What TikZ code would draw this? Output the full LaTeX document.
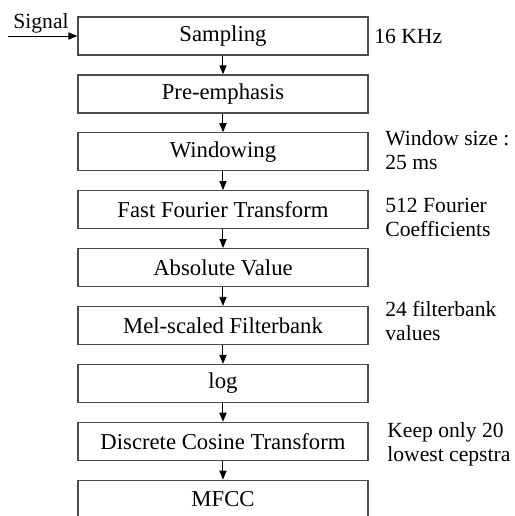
\documentclass[tikz,border=0pt]{standalone}
\usepackage{fontspec}
\setmainfont{Liberation Serif}
\usepackage{tikz}
\usetikzlibrary{arrows.meta}

\begin{document}
\begin{tikzpicture}[x = .5pt, y = -.5pt,
  stage/.style = {draw = black!70, line width = .6pt, fill = white, minimum width = 145pt, minimum height = 19pt, inner sep = 0, font = \fontsize{11.35}{13}\selectfont},
  note/.style = {anchor = base west, align = left, inner sep = 0, font = \fontsize{10.8}{12}\selectfont},
  flow/.style = {line width = .5pt, -{Triangle[length = 4.5pt, width = 3.6pt]}}]
 \useasboundingbox (0, 0) rectangle (515, 516);
 % the chain of processing stages
 \node [stage] (sampling) at (223, 36) {Sampling};
 \node [stage] (preemph) at (223, 93.9) {Pre-emphasis};
 \node [stage] (window) at (223, 151.8) {Windowing};
 \node [stage] (fft) at (223, 209.7) {Fast Fourier Transform};
 \node [stage] (absval) at (223, 267.6) {Absolute Value};
 \node [stage] (melbank) at (223, 325.5) {Mel-scaled Filterbank};
 \node [stage] (logstage) at (223, 383.4) {log};
 \node [stage] (dct) at (223, 441.3) {Discrete Cosine Transform};
 \node [stage] (mfcc) at (223, 499.2) {MFCC};
 \draw [flow] (sampling) -- (preemph);
 \draw [flow] (preemph) -- (window);
 \draw [flow] (window) -- (fft);
 \draw [flow] (fft) -- (absval);
 \draw [flow] (absval) -- (melbank);
 \draw [flow] (melbank) -- (logstage);
 \draw [flow] (logstage) -- (dct);
 \draw [flow] (dct) -- (mfcc);
 % input
 \coordinate (input) at (8, 36);
 \draw [flow] (input) -- (sampling);
 \node [note, anchor = base] (signal) at (41, 28) {Signal};
 % side notes (base = last line)
 \node [note] (rate) at (374, 43) {16 KHz};
 \node [note] (winsize) at (385, 169) {Window size :\\25 ms};
 \node [note] (coeffs) at (385, 236) {512 Fourier\\Coefficients};
 \node [note] (filters) at (385, 340) {24 filterbank\\values};
 \node [note] (cepstra) at (387, 461) {Keep only 20\\lowest cepstra};
\end{tikzpicture}
\end{document}
